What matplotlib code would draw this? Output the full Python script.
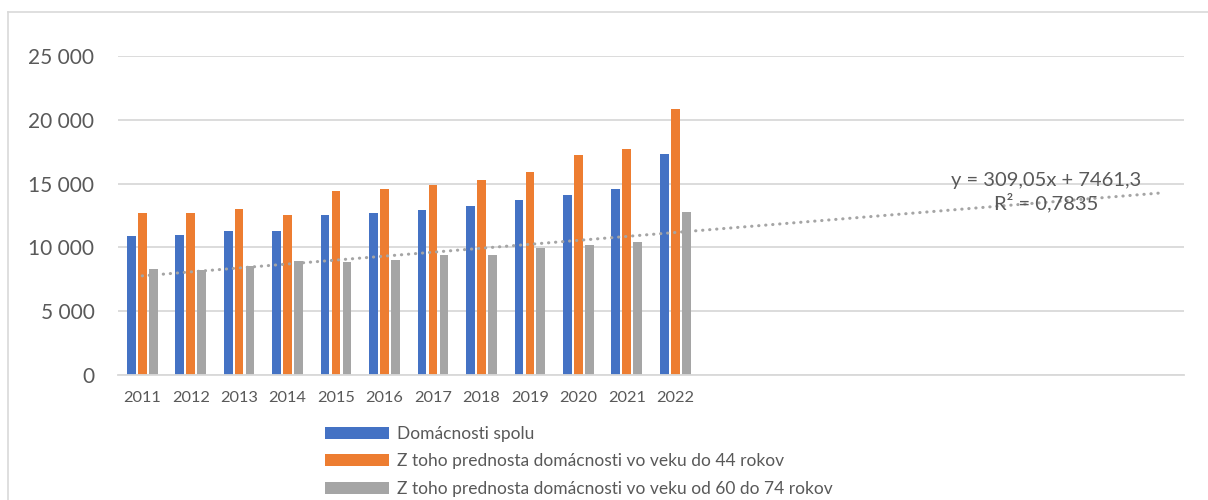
import matplotlib
matplotlib.use("Agg")
import matplotlib.pyplot as plt
import numpy as np
from matplotlib.patches import Patch
from matplotlib.lines import Line2D
from matplotlib.ticker import FuncFormatter

plt.rcParams['font.family'] = ['Lato', 'DejaVu Sans']

# data
years = ['2011', '2012', '2013', '2014', '2015', '2016',
         '2017', '2018', '2019', '2020', '2021', '2022']
spolu = [10920, 11000, 11290, 11310, 12520, 12680, 12940, 13250, 13720, 14110, 14560, 17350]
do44 = [12680, 12700, 13010, 12570, 14450, 14580, 14870, 15260, 15890, 17220, 17720, 20880]
od60 = [8290, 8260, 8520, 8960, 8880, 9020, 9430, 9430, 9960, 10220, 10450, 12780]
labels = ['Domácnosti spolu',
          'Z toho prednosta domácnosti vo veku do 44 rokov',
          'Z toho prednosta domácnosti vo veku od 60 do 74 rokov']
trend_slope = 309.05
trend_intercept = 7461.3
forecast = 10  # periods forward
trend_text = 'y = 309,05x + 7461,3\nR² = 0,7835'

colors = ['#4472C4', '#ED7D31', '#A5A5A5']
txt = '#595959'
grid = '#D9D9D9'

W, H = 1208, 500
fig = plt.figure(figsize=(W / 100, H / 100), dpi=100)
ax = fig.add_axes([118 / W, 1 - 375 / H, (1184 - 118) / W, (375 - 56) / H])

n = len(years)
x = np.arange(n)
pitch = 0.226
bw = 0.18
for k, (vals, c) in enumerate(zip([spolu, do44, od60], colors)):
    ax.bar(x + (k - 1) * pitch, vals, width=bw, color=c, zorder=2)

# linear trendline for the 60-74 series, with forecast
tx = np.arange(1, n + forecast + 1)
ax.plot(tx - 1, trend_slope * tx + trend_intercept, color='#A5A5A5', lw=2.2,
        linestyle=(0, (0.1, 2.2)), dash_capstyle='round', zorder=3)
ax.text(1046 / W, 1 - 192 / H, trend_text, transform=fig.transFigure,
        ha='center', va='center', fontsize=14.5, color=txt, linespacing=1.25)

ax.set_xlim(-0.5, n + forecast - 0.5)
ax.set_ylim(0, 25000)
ax.set_yticks(np.arange(0, 25001, 5000))
ax.yaxis.set_major_formatter(FuncFormatter(lambda v, p: f'{int(v):,}'.replace(',', ' ')))
ax.set_xticks(x)
ax.set_xticklabels(years)
ax.tick_params(axis='y', length=0, pad=17, labelsize=15, labelcolor=txt)
ax.tick_params(axis='x', length=0, pad=11.5, labelsize=11.8, labelcolor=txt)
ax.grid(axis='y', color=grid, lw=1.3, zorder=0)
for s in ['top', 'right', 'left']:
    ax.spines[s].set_visible(False)
ax.spines['bottom'].set_color(grid)
ax.spines['bottom'].set_linewidth(1.3)

handles = [Patch(facecolor=c, edgecolor='none') for c in colors]
fig.legend(handles, labels, loc='upper left', bbox_to_anchor=(325 / W, 1 - 426 / H),
           frameon=False, fontsize=12.5, labelcolor=txt, handlelength=3.7,
           handleheight=0.7, handletextpad=0.45, labelspacing=0.66, borderpad=0,
           borderaxespad=0)

# chart frame (cropped on right and bottom)
fig.add_artist(Line2D([8 / W, 8 / W], [0, 1 - 12 / H], transform=fig.transFigure, color=grid, lw=1.2))
fig.add_artist(Line2D([8 / W, 1], [1 - 12 / H, 1 - 12 / H], transform=fig.transFigure, color=grid, lw=1.2))

fig.savefig('out.png', dpi=100)
